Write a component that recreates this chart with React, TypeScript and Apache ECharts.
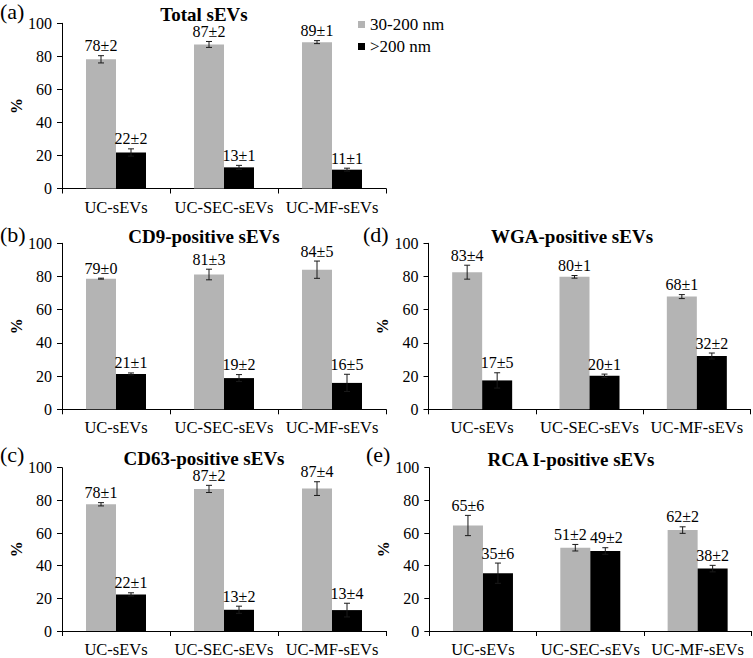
import React, { useEffect, useRef } from "react";
import * as echarts from "echarts";

// ---------- data ----------
const categories = ["UC-sEVs", "UC-SEC-sEVs", "UC-MF-sEVs"];
const seriesNames = ["30-200 nm", ">200 nm"];
const panelTitles = ["Total sEVs", "CD9-positive sEVs", "CD63-positive sEVs", "WGA-positive sEVs", "RCA I-positive sEVs"];
const panelTags = ["(a)", "(b)", "(c)", "(d)", "(e)"];
const yTicks = [0, 20, 40, 60, 80, 100];

const totalSmall = [78.2, 87.2, 88.6];
const totalSmallErr = [2.2, 1.8, 0.9];
const totalLarge = [21.8, 12.8, 11.4];
const totalLargeErr = [2.2, 1.2, 0.9];

const cd9Small = [78.7, 81.2, 84.1];
const cd9SmallErr = [0.3, 3.2, 5.2];
const cd9Large = [21.3, 18.8, 15.9];
const cd9LargeErr = [0.6, 2.1, 5.2];

const cd63Small = [77.6, 87.0, 87.2];
const cd63SmallErr = [1.0, 2.2, 4.2];
const cd63Large = [22.4, 13.0, 12.8];
const cd63LargeErr = [1.0, 2.2, 4.2];

const wgaSmall = [82.6, 79.8, 67.9];
const wgaSmallErr = [4.2, 0.8, 1.2];
const wgaLarge = [17.4, 20.2, 32.1];
const wgaLargeErr = [4.6, 1.0, 1.8];

const rcaSmall = [64.6, 51.0, 61.8];
const rcaSmallErr = [6.2, 2.0, 2.0];
const rcaLarge = [35.4, 49.0, 38.2];
const rcaLargeErr = [6.2, 2.0, 2.0];

const panels = [
  { small: totalSmall, smallErr: totalSmallErr, large: totalLarge, largeErr: totalLargeErr },
  { small: cd9Small, smallErr: cd9SmallErr, large: cd9Large, largeErr: cd9LargeErr },
  { small: cd63Small, smallErr: cd63SmallErr, large: cd63Large, largeErr: cd63LargeErr },
  { small: wgaSmall, smallErr: wgaSmallErr, large: wgaLarge, largeErr: wgaLargeErr },
  { small: rcaSmall, smallErr: rcaSmallErr, large: rcaLarge, largeErr: rcaLargeErr },
];

// ---------- layout / style ----------
const FONT = "Liberation Serif, Times New Roman, serif";
const GRAY = "#b4b4b4";
const BLACK = "#000000";
const BAR_W = 30;

const grids = [
  { left: 62, top: 23.3, width: 324, height: 165.2 },
  { left: 62, top: 243.3, width: 324, height: 166 },
  { left: 62, top: 467.7, width: 324, height: 166.6 },
  { left: 428.5, top: 243.3, width: 322, height: 166 },
  { left: 429.3, top: 467.7, width: 322, height: 166.6 },
];
const titlePos = [
  [204, 14],
  [204, 236.5],
  [204, 458],
  [572, 236.5],
  [571, 459],
];
const tagPos = [
  [0, 11.5],
  [0, 234],
  [0, 454],
  [363, 234],
  [366, 454],
];

function buildOption() {
  const xAxis: any[] = [];
  const yAxis: any[] = [];
  const series: any[] = [];
  const graphic: any[] = [];

  panels.forEach((p, i) => {
    xAxis.push({
      type: "category",
      gridIndex: i,
      data: categories,
      axisLine: { show: true, lineStyle: { color: "#000", width: 1 } },
      axisTick: { show: true, length: 5, alignWithLabel: false, lineStyle: { color: "#000" } },
      axisLabel: { interval: 0, fontFamily: FONT, fontSize: 16.5, color: "#000", margin: 10 },
      splitLine: { show: false },
    });
    yAxis.push({
      type: "value",
      gridIndex: i,
      min: yTicks[0],
      max: yTicks[yTicks.length - 1],
      interval: yTicks[1] - yTicks[0],
      name: "%",
      nameLocation: "middle",
      nameGap: 28,
      nameTextStyle: { fontFamily: FONT, fontSize: 16, fontWeight: "bold", color: "#000" },
      axisLine: { show: true, lineStyle: { color: "#000", width: 1 } },
      axisTick: { show: true, length: 5, lineStyle: { color: "#000" } },
      axisLabel: { fontFamily: FONT, fontSize: 16, color: "#000", margin: 10 },
      splitLine: { show: false },
    });
    series.push({
      type: "bar",
      name: seriesNames[0],
      xAxisIndex: i,
      yAxisIndex: i,
      data: p.small,
      barWidth: BAR_W,
      barGap: "0%",
      itemStyle: { color: GRAY },
      z: 2,
    });
    series.push({
      type: "bar",
      name: seriesNames[1],
      xAxisIndex: i,
      yAxisIndex: i,
      data: p.large,
      barWidth: BAR_W,
      barGap: "0%",
      itemStyle: { color: BLACK },
      z: 2,
    });
    // rows: [category index, value, error, side, partner top]
    const errData: number[][] = [];
    p.small.forEach((v, k) => errData.push([k, v, p.smallErr[k], -1, p.large[k] + p.largeErr[k]]));
    p.large.forEach((v, k) => errData.push([k, v, p.largeErr[k], 1, p.small[k] + p.smallErr[k]]));
    series.push({
      type: "custom",
      xAxisIndex: i,
      yAxisIndex: i,
      data: errData,
      encode: { x: 0, y: 1 },
      clip: false,
      z: 5,
      silent: true,
      renderItem: (params: any, api: any) => {
        const idx = api.value(0);
        const v = api.value(1);
        const e = api.value(2);
        const side = api.value(3);
        const partnerTop = api.value(4);
        const base = api.coord([idx, v]);
        const hi = api.coord([idx, v + e]);
        const lo = api.coord([idx, v - e]);
        const pt = api.coord([idx, partnerTop]);
        const x = base[0] + (side * BAR_W) / 2;
        // nudge the label apart if its neighbour's label sits at nearly the same height
        const crowded = Math.abs(pt[1] - hi[1]) < 14;
        const lx = crowded ? (side < 0 ? x - 5 : x + 1) : x;
        const cap = 3;
        const st = { stroke: "#1a1a1a", lineWidth: 1 };
        return {
          type: "group",
          children: [
            { type: "line", shape: { x1: x, y1: hi[1], x2: x, y2: lo[1] }, style: st },
            { type: "line", shape: { x1: x - cap, y1: hi[1], x2: x + cap, y2: hi[1] }, style: st },
            { type: "line", shape: { x1: x - cap, y1: lo[1], x2: x + cap, y2: lo[1] }, style: st },
            {
              type: "text",
              x: lx,
              y: hi[1] - 2,
              style: {
                text: `${Math.round(v)}±${Math.round(e)}`,
                fill: "#000",
                font: `16px ${FONT}`,
                align: "center",
                verticalAlign: "bottom",
              },
            },
          ],
        };
      },
    });

    graphic.push({
      type: "text",
      x: titlePos[i][0],
      y: titlePos[i][1],
      style: {
        text: panelTitles[i],
        fill: "#000",
        font: `bold 19px ${FONT}`,
        align: "center",
        verticalAlign: "middle",
      },
    });
    graphic.push({
      type: "text",
      x: tagPos[i][0],
      y: tagPos[i][1],
      style: {
        text: panelTags[i],
        fill: "#000",
        font: `22px ${FONT}`,
        align: "left",
        verticalAlign: "middle",
      },
    });
  });

  return {
    animation: false,
    backgroundColor: "#ffffff",
    grid: grids.map((g) => ({ ...g, containLabel: false })),
    xAxis,
    yAxis,
    series,
    graphic,
    legend: {
      data: seriesNames,
      orient: "vertical",
      left: 353,
      top: 11,
      itemWidth: 7,
      itemHeight: 7,
      itemGap: 5,
      icon: "rect",
      selectedMode: false,
      textStyle: { fontFamily: FONT, fontSize: 17, color: "#000" },
    },
  };
}

export default function App() {
  const ref = useRef<HTMLDivElement>(null);
  useEffect(() => {
    if (!ref.current) return;
    const chart = echarts.init(ref.current, null, { renderer: "svg" });
    chart.setOption(buildOption() as any);
    return () => chart.dispose();
  }, []);
  return (
    <div
      ref={ref}
      style={{ position: "fixed", left: 0, top: 0, width: 753, height: 658, background: "#fff" }}
    />
  );
}
